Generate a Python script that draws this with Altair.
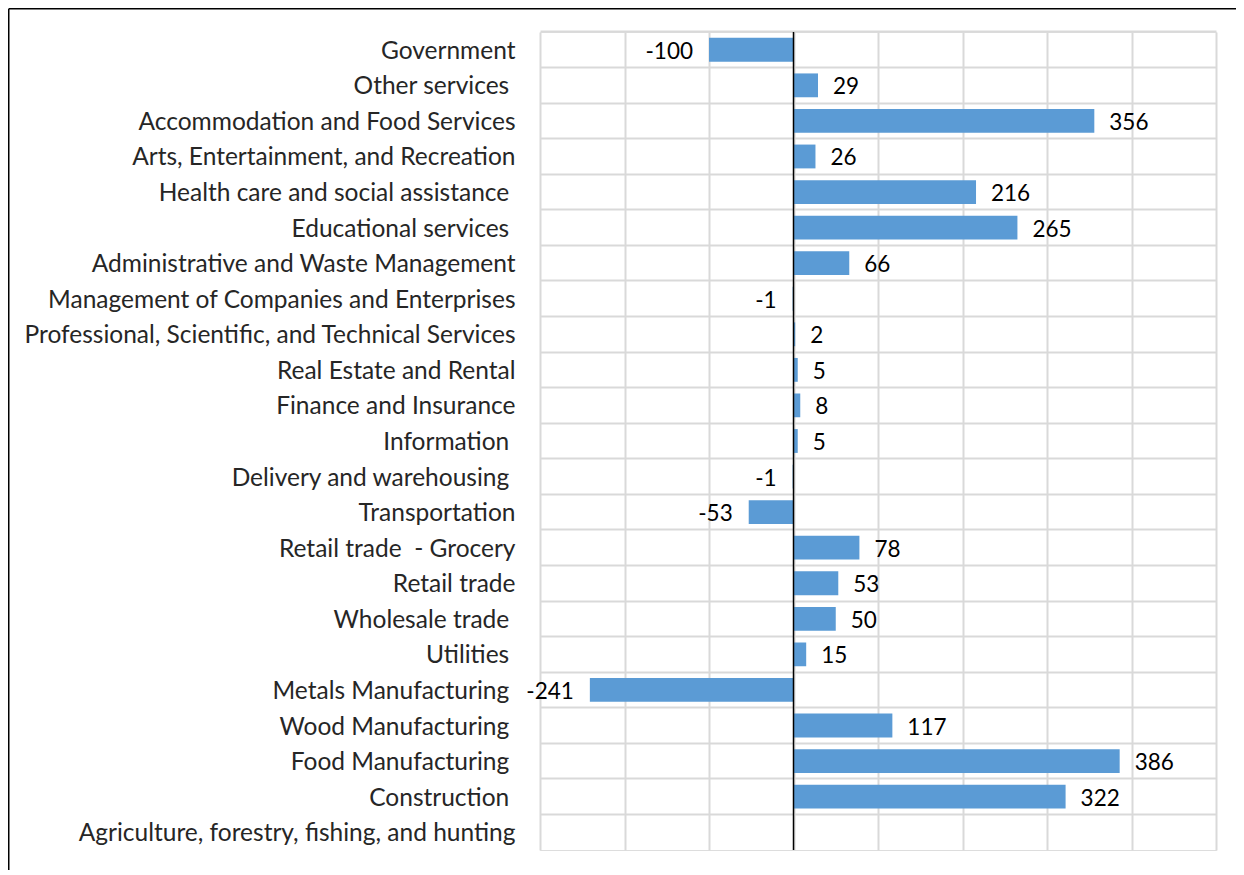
import altair as alt
import pandas as pd

SP = "\u00a0\u2060"
categories = [
    "Government",
    "Other services" + SP,
    "Accommodation and Food Services",
    "Arts, Entertainment, and Recreation",
    "Health care and social assistance" + SP,
    "Educational services" + SP,
    "Administrative and Waste Management",
    "Management of Companies and Enterprises",
    "Professional, Scientific, and Technical Services",
    "Real Estate and Rental",
    "Finance and Insurance",
    "Information" + SP,
    "Delivery and warehousing" + SP,
    "Transportation",
    "Retail trade\u00a0 - Grocery",
    "Retail trade",
    "Wholesale trade" + SP,
    "Utilities" + SP,
    "Metals Manufacturing" + SP,
    "Wood Manufacturing" + SP,
    "Food Manufacturing" + SP,
    "Construction" + SP,
    "Agriculture, forestry, fishing, and hunting",
]
values = [-100, 29, 356, 26, 216, 265, 66, -1, 2, 5, 8, 5, -1, -53, 78, 53, 50, 15,
          -241, 117, 386, 322, None]
x_ticks = [-300, -200, -100, 0, 100, 200, 300, 400, 500]

df = pd.DataFrame({"cat": categories, "v": values})

W, H = 676, 818
PL, PT, PR, PB = 532, 24, 20, 20
FONT = "Lato"

y_enc = alt.Y("cat:N", sort=categories, title=None,
              scale=alt.Scale(paddingInner=0, paddingOuter=0),
              axis=alt.Axis(labelFont=FONT, labelFontSize=24.5, labelColor="#262626",
                            labelPadding=25, labelOffset=2, ticks=False, domain=False,
                            grid=True, gridColor="#D9D9D9", gridWidth=2,
                            bandPosition=0, labelLimit=600))
x_enc = alt.X("v:Q", title=None,
              scale=alt.Scale(domain=[-300, 500], nice=False),
              axis=alt.Axis(values=x_ticks, labels=False, ticks=False, domain=False,
                            grid=True, gridColor="#D9D9D9", gridWidth=2))

base = alt.Chart(df).transform_calculate(lbl="'' + datum.v")

bars = base.mark_bar(color="#5B9BD5", height={"band": 0.67}).encode(y=y_enc, x=x_enc)

pos_lbl = base.transform_filter("datum.v >= 0").mark_text(
    align="left", baseline="middle", dx=15, dy=2, font=FONT, fontSize=22.5, color="#000000"
).encode(y=alt.Y("cat:N", sort=categories), x="v:Q", text="lbl:N")

neg_lbl = base.transform_filter("datum.v < 0").mark_text(
    align="right", baseline="middle", dx=-16, dy=2, font=FONT, fontSize=22.5, color="#000000"
).encode(y=alt.Y("cat:N", sort=categories), x="v:Q", text="lbl:N")

zero = alt.Chart(pd.DataFrame({"z": [0]})).mark_rule(color="#000000", strokeWidth=1.5).encode(
    x="z:Q")

frame_top = alt.Chart(pd.DataFrame({"a": [0]})).mark_rule(
    color="#000000", strokeWidth=1.5, clip=False).encode(
    x=alt.value(-PL + 0.75), x2=alt.value(W + PR), y=alt.value(-PT + 0.75))
frame_left = alt.Chart(pd.DataFrame({"a": [0]})).mark_rule(
    color="#000000", strokeWidth=1.5, clip=False).encode(
    x=alt.value(-PL + 0.75), y=alt.value(-PT + 0.75), y2=alt.value(H + PB))

chart = alt.layer(bars, zero, pos_lbl, neg_lbl, frame_top, frame_left).properties(
    width=W, height=H,
    autosize=alt.AutoSizeParams(type="none"),
    padding={"left": PL, "top": PT, "right": PR, "bottom": PB},
).configure_view(stroke="#D9D9D9", strokeWidth=2).configure(background="white")

chart.save("out.html", embed_options={"renderer": "svg", "actions": False})
